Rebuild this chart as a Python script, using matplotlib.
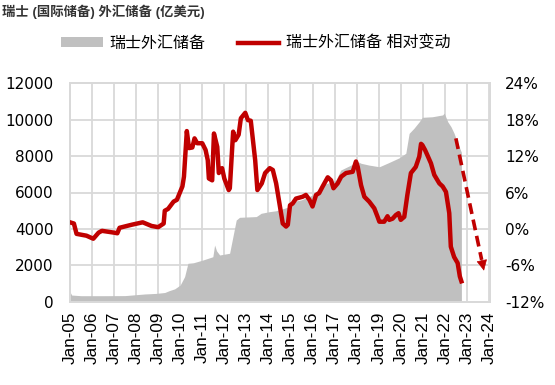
import matplotlib
matplotlib.use('Agg')
import matplotlib.pyplot as plt
from matplotlib.patches import Patch
from matplotlib.lines import Line2D

plt.rcParams['font.family'] = ['Liberation Sans', 'Noto Sans CJK SC', 'DejaVu Sans']

# gray area: Swiss FX reserves (100m USD), decimal year
res_t = [2005.0, 2005.08, 2005.5, 2006.5, 2007.5, 2008.0, 2008.4, 2008.9, 2009.3,
         2009.5, 2009.75, 2010.0, 2010.2, 2010.35, 2010.6, 2011.03, 2011.48, 2011.56,
         2011.65, 2011.79, 2012.0, 2012.24, 2012.39, 2012.54, 2012.69, 2013.45,
         2013.67, 2014.05, 2014.35, 2014.95, 2015.1, 2015.5, 2016.0, 2016.46,
         2017.06, 2017.28, 2017.74, 2018.05, 2018.2, 2018.57, 2019.03, 2019.48,
         2019.93, 2020.23, 2020.38, 2020.6, 2020.84, 2020.98, 2021.43, 2021.9,
         2021.97, 2022.13, 2022.28, 2022.42, 2022.55, 2022.75]
res_v = [560, 380, 345, 345, 350, 400, 440, 470, 520,
         620, 720, 930, 1390, 2120, 2150, 2300, 2480, 3120,
         2800, 2575, 2620, 2670, 3580, 4490, 4640, 4680,
         4860, 4950, 5000, 5220, 5500, 5600, 5860, 6410,
         6680, 7230, 7500, 7690, 7600, 7500, 7410, 7650,
         7900, 8150, 9240, 9520, 9880, 10120, 10150, 10250,
         10350, 9880, 9600, 9240, 8800, 8200]

# red line: relative change (%)
chg_t = [2005.0, 2005.18, 2005.3, 2005.75, 2006.06, 2006.3, 2006.45, 2007.0, 2007.15,
         2007.25, 2007.8, 2008.3, 2008.7, 2009.0, 2009.25, 2009.3, 2009.45, 2009.7,
         2009.85, 2010.1, 2010.17, 2010.3, 2010.4, 2010.55, 2010.65, 2010.77, 2011.0,
         2011.15, 2011.25, 2011.3, 2011.45, 2011.53, 2011.68, 2011.75, 2011.9, 2012.0,
         2012.2, 2012.25, 2012.4, 2012.5, 2012.65, 2012.75, 2012.95, 2013.07, 2013.2,
         2013.4, 2013.5, 2013.7, 2013.85, 2014.06, 2014.2, 2014.35, 2014.5, 2014.65,
         2014.8, 2014.88, 2014.98, 2015.1, 2015.25, 2015.55, 2015.7, 2015.86, 2016.0,
         2016.16, 2016.3, 2016.46, 2016.69, 2016.84, 2016.95, 2017.14, 2017.3, 2017.52,
         2017.82, 2017.97, 2018.05, 2018.2, 2018.35, 2018.57, 2018.8, 2018.95, 2019.03,
         2019.25, 2019.4, 2019.48, 2019.63, 2019.78, 2019.9, 2020.0, 2020.16, 2020.3,
         2020.46, 2020.68, 2020.84, 2020.92, 2020.98, 2021.1, 2021.2, 2021.37, 2021.52,
         2021.75, 2021.9, 2022.05, 2022.2, 2022.27, 2022.42, 2022.58, 2022.68, 2022.75]
chg_v = [1.1, 0.9, -0.8, -1.1, -1.6, -0.6, -0.3, -0.6, -0.7,
         0.2, 0.7, 1.1, 0.5, 0.3, 0.9, 3.0, 3.3, 4.5,
         4.8, 7.0, 8.6, 16.1, 13.3, 13.4, 14.9, 14.1, 14.1,
         13.0, 11.3, 8.3, 8.0, 15.7, 13.5, 9.2, 10.0, 8.3,
         6.4, 6.7, 16.0, 14.6, 15.5, 18.2, 19.1, 17.9, 17.8,
         11.3, 6.4, 7.5, 9.2, 10.0, 9.7, 7.5, 4.2, 0.9,
         0.4, 0.7, 3.9, 4.2, 5.0, 5.3, 5.6, 4.8, 3.7,
         5.6, 5.9, 7.0, 8.5, 8.0, 6.7, 7.5, 8.6, 9.2,
         9.4, 11.1, 10.2, 7.2, 5.3, 4.5, 3.4, 2.0, 1.2,
         1.2, 2.1, 1.5, 1.7, 2.3, 2.6, 1.5, 2.0, 5.6,
         9.2, 10.2, 11.9, 14.0, 13.8, 13.0, 12.2, 10.8, 8.9,
         7.5, 7.0, 6.1, 2.6, -2.9, -4.6, -5.6, -7.8, -8.6]

years = list(range(2005, 2025))
year_labels = ['Jan-%02d' % (y % 100) for y in years]
left_ticks = [0, 2000, 4000, 6000, 8000, 10000, 12000]
right_ticks = [-12, -6, 0, 6, 12, 18, 24]

arrow_start = (2022.5, 14.9)
arrow_end = (2023.8, -7.3)

RED = '#c00000'
GRAY = '#c0c0c0'
GRID = '#d9d9d9'

fig = plt.figure(figsize=(5.55, 3.85), dpi=100)
ax = fig.add_axes([0.126, 0.2156, 0.757, 0.5688])
ax2 = ax.twinx()

ax.set_axisbelow(True)
ax.fill_between(res_t, res_v, 0, color=GRAY, lw=0, zorder=2)
ax.set_xlim(2005, 2024.05)
ax.set_ylim(0, 12000)
ax.set_xticks(years)
ax.set_xticklabels(year_labels, rotation=90, fontsize=12.3)
ax.set_yticks(left_ticks)
ax.set_yticklabels([str(v) for v in left_ticks], fontsize=11, family='DejaVu Sans')
ax.grid(True, color=GRID, lw=1.3)
ax.tick_params(length=0, pad=12)
ax.tick_params(axis='x', pad=7)

ax2.plot(chg_t, chg_v, color=RED, lw=3.2, solid_joinstyle='round', zorder=3)
ax2.set_ylim(-12, 24)
ax2.set_yticks(right_ticks)
ax2.set_yticklabels(['%d%%' % v for v in right_ticks], fontsize=11, family='DejaVu Sans')
ax2.tick_params(length=0, pad=11)

# dashed arrow
ax2.plot([arrow_start[0], arrow_start[0] + (arrow_end[0] - arrow_start[0]) * 0.9],
         [arrow_start[1], arrow_start[1] + (arrow_end[1] - arrow_start[1]) * 0.9],
         color=RED, lw=2.6, dashes=(3, 1.6))
ax2.annotate('', xy=arrow_end,
             xytext=(arrow_start[0] + (arrow_end[0] - arrow_start[0]) * 0.88,
                     arrow_start[1] + (arrow_end[1] - arrow_start[1]) * 0.88),
             arrowprops=dict(arrowstyle='-|>', color=RED, lw=0.5, mutation_scale=17))

for a in (ax, ax2):
    for s in a.spines.values():
        s.set_color(GRID)
        s.set_linewidth(1.3)

fig.text(0.004, 1 - 12 / 385, '瑞士 (国际储备) 外汇储备 (亿美元)', fontsize=9.6,
         fontweight='bold', va='center', ha='left', color='#333333')

handles = [Patch(facecolor=GRAY, edgecolor='none'),
           Line2D([], [], color=RED, lw=3.2)]
fig.legend(handles, ['瑞士外汇储备', '瑞士外汇储备 相对变动'],
           loc='center left', bbox_to_anchor=(0.11, 1 - 43 / 385), ncol=2,
           frameon=False, fontsize=11.5, handlelength=2.6, handleheight=0.5,
           columnspacing=2.0, handletextpad=0.45, borderaxespad=0, borderpad=0)

plt.savefig('out.png', dpi=100)
